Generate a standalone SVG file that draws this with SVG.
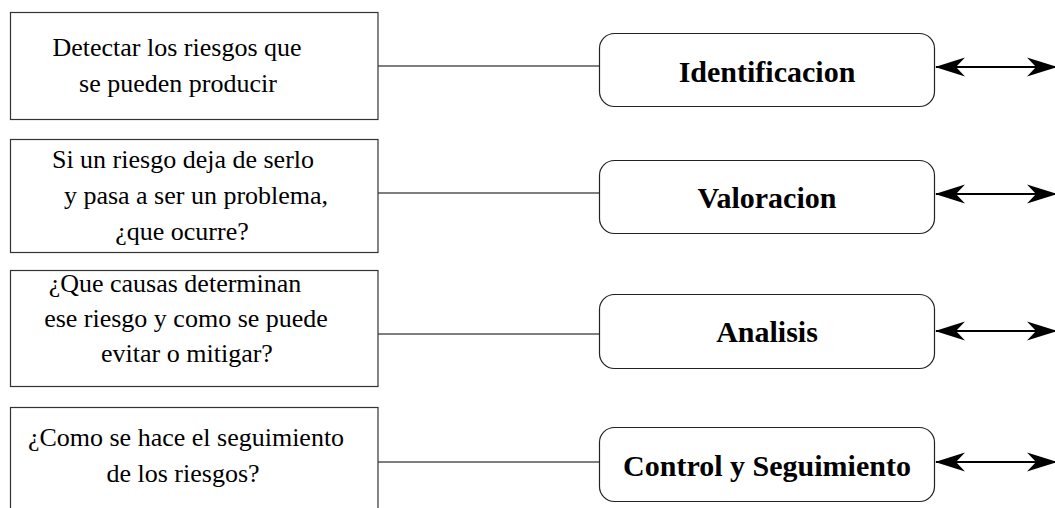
<svg xmlns="http://www.w3.org/2000/svg" width="1055" height="508" viewBox="0 0 1055 508">
  <style>
    .desc { fill: #fff; stroke: #333; stroke-width: 1.2; }
    .stage { fill: #fff; stroke: #222; stroke-width: 1.2; }
    .dtxt { font-family: "Liberation Serif", "Times New Roman", serif; font-size: 26px; fill: #000; text-anchor: middle; }
    .stxt { font-family: "Liberation Serif", "Times New Roman", serif; font-size: 30px; font-weight: bold; fill: #000; text-anchor: middle; }
    .link { stroke: #000; stroke-width: 1.2; fill: none; }
    .flow { stroke: #000; stroke-width: 2.2; fill: none; marker-start: url(#head); marker-end: url(#head); }
  </style>
  <defs>
    <marker id="head" viewBox="0 -10 30 20" refX="29" refY="0" markerWidth="30" markerHeight="20" markerUnits="userSpaceOnUse" orient="auto-start-reverse">
      <path d="M0,-9.5 L30,0 L0,9.5 L9,0 Z" fill="#000"/>
    </marker>
  </defs>

  <!-- lines joining each description to its stage, and the two-way arrows -->
  <g id="connectors">
    <line class="link" x1="378" y1="66" x2="599" y2="66"/>
    <line class="link" x1="378" y1="193" x2="599" y2="193"/>
    <line class="link" x1="378" y1="334" x2="599" y2="334"/>
    <line class="link" x1="378" y1="462" x2="599" y2="462"/>
    <line class="flow" x1="936" y1="67" x2="1056" y2="67"/>
    <line class="flow" x1="936" y1="194" x2="1056" y2="194"/>
    <line class="flow" x1="936" y1="331" x2="1056" y2="331"/>
    <line class="flow" x1="936" y1="462" x2="1056" y2="462"/>
  </g>

  <!-- descriptions -->
  <g id="desc-identificacion">
    <rect class="desc" x="10.5" y="12.5" width="367.5" height="107"/>
    <text class="dtxt" x="177" y="56">Detectar los riesgos que</text>
    <text class="dtxt" x="178" y="92">se pueden producir</text>
  </g>
  <g id="desc-valoracion">
    <rect class="desc" x="10.5" y="139.5" width="367.5" height="113"/>
    <text class="dtxt" x="183" y="168">Si un riesgo deja de serlo</text>
    <text class="dtxt" x="196" y="204">y pasa a ser un problema,</text>
    <text class="dtxt" x="182" y="240">¿que ocurre?</text>
  </g>
  <g id="desc-analisis">
    <rect class="desc" x="10.5" y="270.5" width="367.5" height="116"/>
    <text class="dtxt" x="175" y="292">¿Que causas determinan</text>
    <text class="dtxt" x="186" y="327">ese riesgo y como se puede</text>
    <text class="dtxt" x="187" y="362">evitar o mitigar?</text>
  </g>
  <g id="desc-control">
    <rect class="desc" x="10.5" y="407.5" width="367.5" height="120"/>
    <text class="dtxt" x="186" y="446">¿Como se hace el seguimiento</text>
    <text class="dtxt" x="183" y="482">de los riesgos?</text>
  </g>

  <!-- stages -->
  <g id="stage-identificacion">
    <rect class="stage" x="599.5" y="33.5" width="335" height="73" rx="15"/>
    <text class="stxt" x="767" y="82">Identificacion</text>
  </g>
  <g id="stage-valoracion">
    <rect class="stage" x="599.5" y="160.5" width="335" height="73" rx="15"/>
    <text class="stxt" x="767" y="208">Valoracion</text>
  </g>
  <g id="stage-analisis">
    <rect class="stage" x="599.5" y="294.5" width="335" height="74" rx="15"/>
    <text class="stxt" x="767" y="342">Analisis</text>
  </g>
  <g id="stage-control">
    <rect class="stage" x="599.5" y="427.5" width="335" height="74" rx="15"/>
    <text class="stxt" x="767" y="476">Control y Seguimiento</text>
  </g>
</svg>
